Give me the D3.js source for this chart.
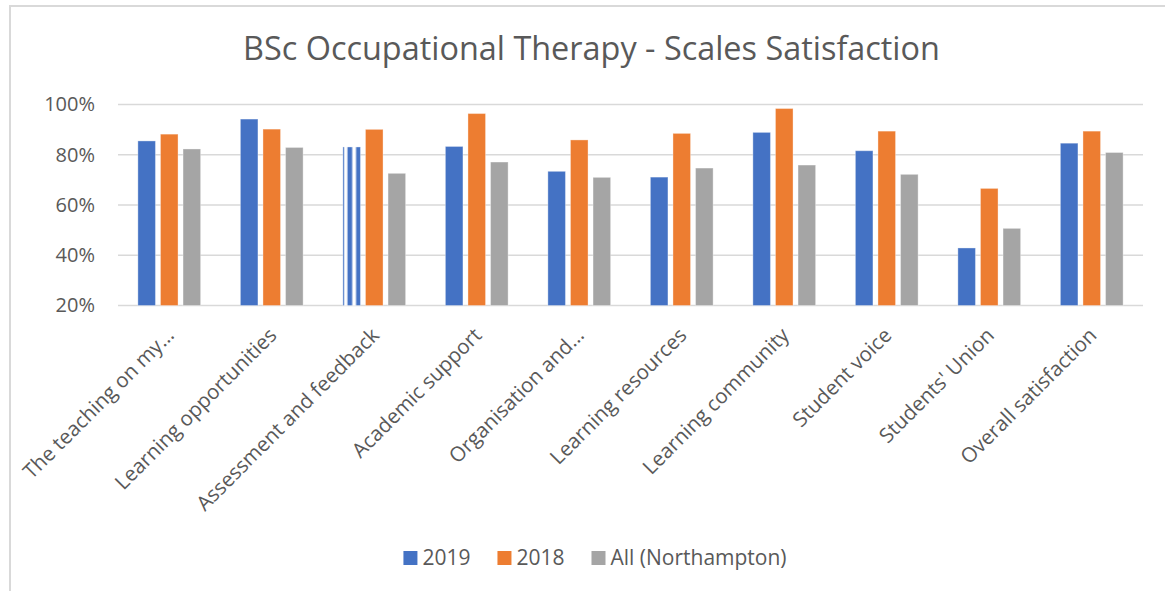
<!DOCTYPE html>
<html>
<head>
<meta charset="utf-8">
<script src="https://cdn.jsdelivr.net/npm/d3@7"></script>
<style>
  body { margin: 0; background: #fff; }
  text { font-family: "Open Sans", sans-serif; fill: #595959; }
</style>
</head>
<body>
<div id="vis"></div>
<script>
// categories along the x axis
var categories = [
  "The teaching on my…",
  "Learning opportunities",
  "Assessment and feedback",
  "Academic support",
  "Organisation and…",
  "Learning resources",
  "Learning community",
  "Student voice",
  "Students' Union",
  "Overall satisfaction"
];

// series names (legend order)
var seriesNames = ["2019", "2018", "All (Northampton)"];

// values in percent
var values2019 = [85.5, 94.2, 83.1, 83.3, 73.4, 71.1, 88.9, 81.6, 42.9, 84.6];
var values2018 = [88.2, 90.2, 90.1, 96.4, 85.9, 88.5, 98.4, 89.4, 66.6, 89.4];
var valuesAll = [82.3, 82.9, 72.6, 77.1, 71.0, 74.7, 75.9, 72.2, 50.7, 80.9];

// y axis ticks
var yTicks = [20, 40, 60, 80, 100];

// the one bar that is drawn with a striped fill in the original
var stripedBars = ["Assessment and feedback|2019"];

var width = 1165;
var height = 591;
var margin = { top: 104.5, left: 118, bottom: 285.5, right: 22 };

var colors = { "2019": "#4472C4", "2018": "#ED7D31", "All (Northampton)": "#A5A5A5" };

var seriesValues = { "2019": values2019, "2018": values2018, "All (Northampton)": valuesAll };

var data = categories.map(function (c, i) {
  return {
    category: c,
    values: seriesNames.map(function (s) {
      return { series: s, category: c, value: seriesValues[s][i] };
    })
  };
});

var svg = d3.select("#vis").append("svg")
  .attr("width", width)
  .attr("height", height);

var defs = svg.append("defs");

// vertical stripes, sized relative to the bar
var pattern = defs.append("pattern")
  .attr("id", "stripes")
  .attr("patternUnits", "objectBoundingBox")
  .attr("patternContentUnits", "objectBoundingBox")
  .attr("width", 1)
  .attr("height", 1);
pattern.append("rect").attr("width", 1).attr("height", 1).attr("fill", "#fff");
[[0, 0.07], [0.26, 0.27], [0.75, 0.25]].forEach(function (s) {
  pattern.append("rect")
    .attr("x", s[0]).attr("y", 0)
    .attr("width", s[1]).attr("height", 1)
    .attr("fill", colors["2019"]);
});

// chart area border (runs off the right/bottom of the screenshot)
svg.append("rect")
  .attr("x", 10)
  .attr("y", 6)
  .attr("width", width + 20)
  .attr("height", height + 20)
  .attr("fill", "none")
  .attr("stroke", "#d9d9d9")
  .attr("stroke-width", 2);

var plotW = width - margin.left - margin.right;
var plotH = height - margin.top - margin.bottom;

var g = svg.append("g")
  .attr("transform", "translate(" + margin.left + "," + margin.top + ")");

var x0 = d3.scaleBand()
  .domain(categories)
  .range([0, plotW])
  .paddingInner(0.388)
  .paddingOuter(0.194);

var x1 = d3.scaleBand()
  .domain(seriesNames)
  .range([0, x0.bandwidth()])
  .paddingInner(0.222);

var y = d3.scaleLinear()
  .domain([20, 100])
  .range([plotH, 0]);

// gridlines
g.append("g")
  .attr("class", "grid")
  .selectAll("line")
  .data(yTicks)
  .join("line")
  .attr("x1", 0)
  .attr("x2", plotW)
  .attr("y1", function (d) { return y(d); })
  .attr("y2", function (d) { return y(d); })
  .attr("stroke", "#d9d9d9")
  .attr("stroke-width", 1.5);

// y axis labels
var yAxis = d3.axisLeft(y)
  .tickValues(yTicks)
  .tickSize(0)
  .tickPadding(23)
  .tickFormat(function (d) { return d + "%"; });

g.append("g")
  .attr("class", "y axis")
  .call(yAxis)
  .call(function (a) { a.select(".domain").remove(); })
  .selectAll("text")
  .style("font-size", "20px")
  .attr("fill", "#595959");

// bars
var groups = g.selectAll(".group")
  .data(data)
  .join("g")
  .attr("class", "group")
  .attr("transform", function (d) { return "translate(" + x0(d.category) + ",0)"; });

groups.selectAll("rect")
  .data(function (d) { return d.values; })
  .join("rect")
  .attr("x", function (d) { return x1(d.series); })
  .attr("y", function (d) { return y(d.value); })
  .attr("width", x1.bandwidth())
  .attr("height", function (d) { return y(20) - y(d.value); })
  .attr("fill", function (d) {
    if (stripedBars.indexOf(d.category + "|" + d.series) >= 0) return "url(#stripes)";
    return colors[d.series];
  })
  .attr("stroke", "#fff")
  .attr("stroke-opacity", 0.35)
  .attr("stroke-width", 1);

// x axis labels, rotated
g.append("g")
  .attr("class", "x labels")
  .selectAll("text")
  .data(categories)
  .join("text")
  .attr("transform", function (d) {
    var cx = x0(d) + x0.bandwidth() / 2;
    return "translate(" + (cx + 1) + "," + (plotH + 26) + ") rotate(-45)";
  })
  .attr("text-anchor", "end")
  .attr("dy", "0.35em")
  .style("font-size", "20.5px")
  .text(function (d) { return d; });

// title, sized to the original's width
var title = svg.append("text")
  .attr("x", 591.5)
  .attr("y", 60)
  .attr("text-anchor", "middle")
  .style("font-size", "28px")
  .text("BSc Occupational Therapy - Scales Satisfaction");
var tw = title.node().getComputedTextLength();
title.style("font-size", (28 * 697 / tw) + "px");

// legend
var legend = svg.append("g").attr("class", "legend");
var lx = 0;
seriesNames.forEach(function (s) {
  var item = legend.append("g").attr("transform", "translate(" + lx + ",0)");
  item.append("rect")
    .attr("x", 0)
    .attr("y", -7)
    .attr("width", 14)
    .attr("height", 14)
    .attr("fill", colors[s]);
  var t = item.append("text")
    .attr("x", 19)
    .attr("y", 0)
    .attr("dy", "0.35em")
    .style("font-size", "21px")
    .text(s);
  lx += 19 + t.node().getComputedTextLength() + 27;
});
var legendW = lx - 27;
legend.attr("transform", "translate(" + (595 - legendW / 2) + ",558)");
</script>
</body>
</html>
